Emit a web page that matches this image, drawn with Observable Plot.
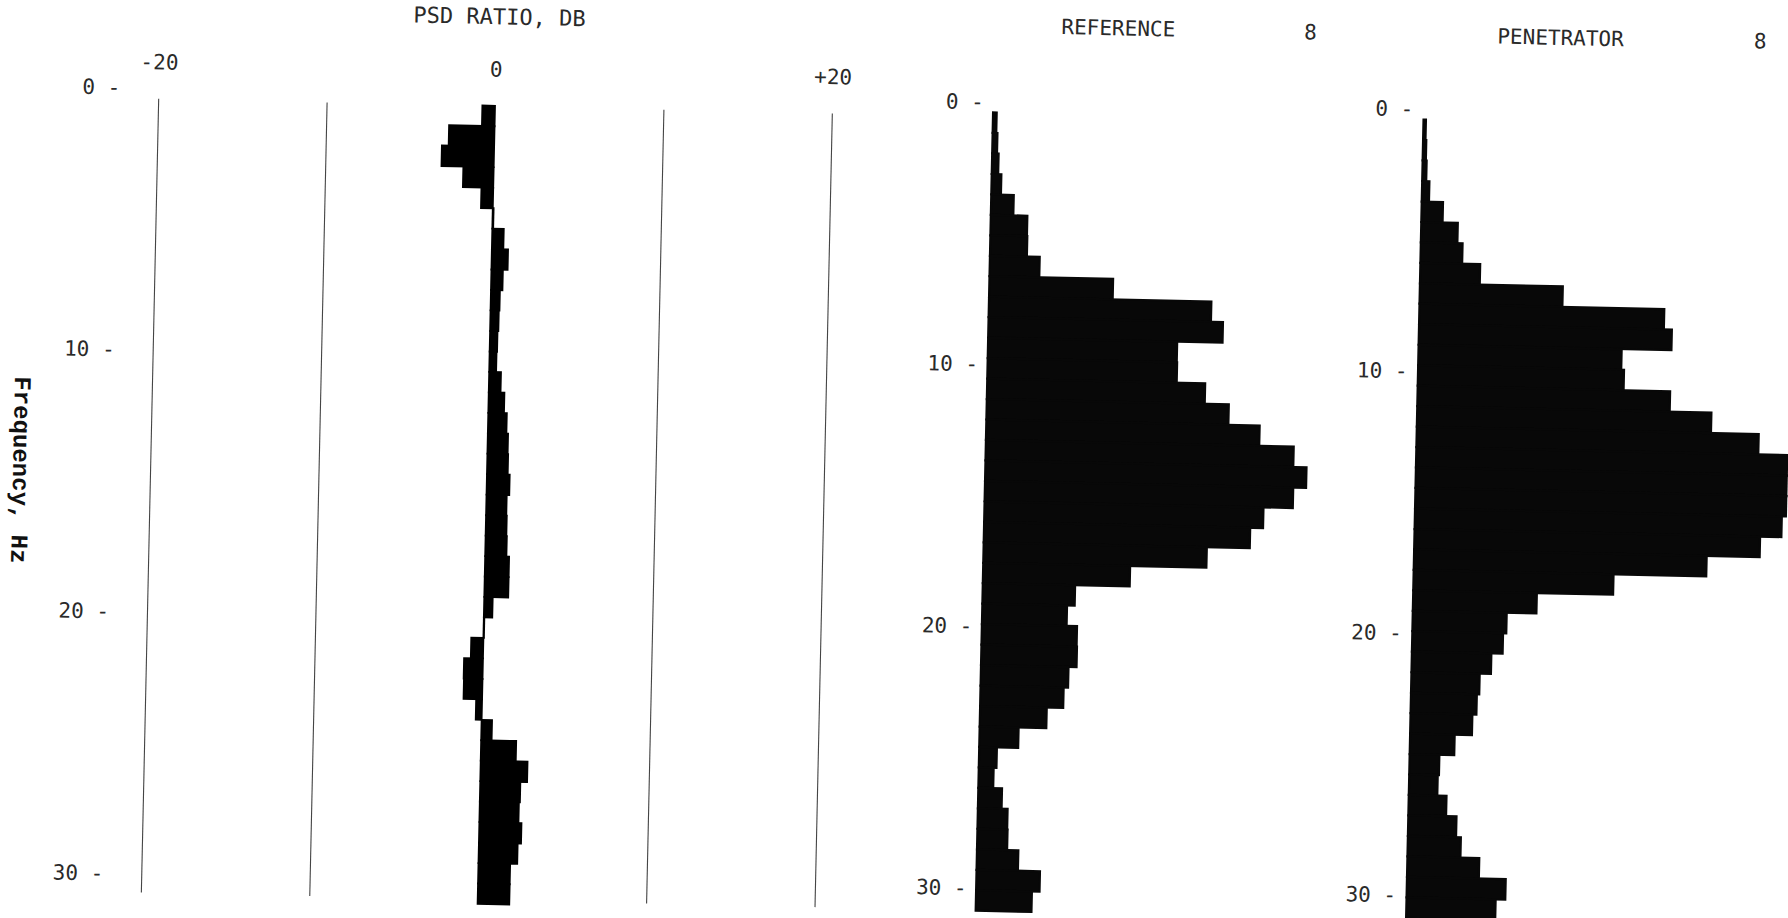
<!DOCTYPE html>
<html>
<head>
<meta charset="utf-8">
<script src="https://cdn.jsdelivr.net/npm/d3@7"></script>
<script src="https://cdn.jsdelivr.net/npm/@observablehq/plot@0.6"></script>
<style>
  html, body { margin: 0; padding: 0; background: #fff; overflow: hidden; width: 1788px; height: 918px; }
  #page { position: relative; width: 1788px; height: 918px; transform: rotate(1.25deg); transform-origin: 894px 459px; }
  #page svg { position: absolute; left: 0; top: 0; }
  .txt { position: absolute; font-family: "DejaVu Sans Mono", monospace; font-size: 21px; color: #2a2a2a; white-space: pre; line-height: 1; transform: translate(0, -50%); }
  .ctr { transform: translate(-50%, -50%); }
  #ylab { position: absolute; left: 20px; top: 489px; transform: translate(-50%, -50%); writing-mode: vertical-rl;
          font-family: "Liberation Mono", monospace; font-weight: bold; font-size: 24px; color: #111; white-space: pre; }
</style>
</head>
<body>
<div id="page">
  <div class="txt ctr" id="t0" style="left:490px; top:26px; font-size:22px;"></div>
  <div class="txt" id="t1" style="left:1052px; top:24px;"></div>
  <div class="txt ctr" id="s1" style="left:1301px; top:24px;"></div>
  <div class="txt" id="t2" style="left:1488px; top:24px;"></div>
  <div class="txt ctr" id="s2" style="left:1751px; top:23px;"></div>
  <div id="ylab"></div>
</div>
<script>
// ---- data ----
const freqHz = [0.78, 1.56, 2.34, 3.13, 3.91, 4.69, 5.47, 6.25, 7.03, 7.81, 8.59, 9.38, 10.16, 10.94,
  11.72, 12.50, 13.28, 14.06, 14.84, 15.63, 16.41, 17.19, 17.97, 18.75, 19.53, 20.31, 21.09, 21.88,
  22.66, 23.44, 24.22, 25.00, 25.78, 26.56, 27.34, 28.13, 28.91, 29.69, 30.47];
const binWidthHz = 0.78125;

const psdRatioDb = [-0.75, -2.7, -3.1, -1.8, -0.7, 0.05, 0.68, 0.96, 0.68, 0.53, 0.49, 0.44, 0.41,
  0.7, 0.93, 1.1, 1.2, 1.23, 1.35, 1.2, 1.23, 1.26, 1.42, 1.42, 0.5, 0.03, -0.72, -1.12, -1.1,
  -0.35, 0.62, 2.08, 2.78, 2.38, 2.32, 2.5, 2.3, 1.88, 1.88];

const referencePsd = [0.09, 0.12, 0.16, 0.24, 0.56, 0.91, 0.92, 1.24, 3.08, 5.54, 5.84, 4.71, 4.72,
  5.43, 6.03, 6.81, 7.67, 8.0, 7.68, 6.95, 6.63, 5.56, 3.66, 2.30, 2.11, 2.37, 2.38, 2.18, 2.07,
  1.66, 0.97, 0.44, 0.37, 0.59, 0.74, 0.75, 1.03, 1.58, 1.39];

const penetratorPsd = [0.06, 0.08, 0.10, 0.18, 0.53, 0.91, 1.04, 1.49, 3.56, 6.10, 6.30, 5.06, 5.13,
  6.29, 7.33, 8.52, 10.1, 10.6, 10.5, 9.14, 8.61, 7.29, 4.98, 3.08, 2.34, 2.26, 1.98, 1.70, 1.64,
  1.54, 1.11, 0.74, 0.71, 0.94, 1.20, 1.32, 1.79, 2.46, 2.22];

const dbGridLines = [-20, -10, 10, 20];
const dbTickLabels = [-20, 0, 20];
const freqTicks = [0, 10, 20, 30];
const gridSpanHz = [0.4, 30.7];
const panelTitles = ["PSD RATIO, DB", "REFERENCE", "PENETRATOR"];
const scaleLabels = ["8", "8"];
const yAxisTitle = "Frequency, Hz";

// ---- text ----
document.getElementById("t0").textContent = panelTitles[0];
document.getElementById("t1").textContent = panelTitles[1];
document.getElementById("t2").textContent = panelTitles[2];
document.getElementById("s1").textContent = scaleLabels[0];
document.getElementById("s2").textContent = scaleLabels[1];
document.getElementById("ylab").textContent = yAxisTitle;

// ---- charts ----
const rows = vals => freqHz.map((f, i) => ({lo: f - binWidthHz / 2, hi: f + binWidthHz / 2, v: vals[i]}));
const W = 1788, H = 918;
const baseStyle = {background: "transparent", fontFamily: "'DejaVu Sans Mono', monospace", fontSize: "21px", color: "#2a2a2a"};
const yAxis = () => Plot.axisY({anchor: "left", ticks: freqTicks, tickSize: 0, tickPadding: 3,
  tickFormat: d => `${d} -`, label: null});

const ratioPlot = Plot.plot({
  width: W, height: H, marginTop: 88, marginLeft: 115, marginRight: 0, marginBottom: 0,
  style: baseStyle,
  x: {domain: [-20, 20], range: [150.5, 824.3]},
  y: {domain: [0, 30], range: [104.4, 890.4]},
  marks: [
    Plot.ruleX(dbGridLines, {x: d => d, y1: () => gridSpanHz[0], y2: () => gridSpanHz[1], stroke: "#444", strokeWidth: 1.1}),
    Plot.rect(rows(psdRatioDb), {x1: () => 0, x2: "v", y1: "lo", y2: "hi", fill: "#000", stroke: "#000", strokeWidth: 1.8}),
    Plot.axisX({anchor: "top", ticks: dbTickLabels, tickSize: 0, tickPadding: 3,
      tickFormat: d => d > 0 ? `+${d}` : `${d}`, label: null}),
    yAxis()
  ]
});

const refPlot = Plot.plot({
  width: W, height: H, marginTop: 0, marginLeft: 978.5, marginRight: 0, marginBottom: 0,
  style: baseStyle,
  x: {domain: [0, 8], range: [985.5, 1306.6], axis: null},
  y: {domain: [0, 30], range: [100.2, 886.3]},
  marks: [
    Plot.rect(rows(referencePsd), {x1: () => 0, x2: "v", y1: "lo", y2: "hi", fill: "#080808", stroke: "#080808", strokeWidth: 2.2}),
    yAxis()
  ]
});

const penPlot = Plot.plot({
  width: W, height: H, marginTop: 0, marginLeft: 1408, marginRight: 0, marginBottom: 0,
  style: baseStyle,
  x: {domain: [0, 8], range: [1416, 1737.1], axis: null},
  y: {domain: [0, 30], range: [97.9, 884.0]},
  marks: [
    Plot.rect(rows(penetratorPsd), {x1: () => 0, x2: "v", y1: "lo", y2: "hi", fill: "#080808", stroke: "#080808", strokeWidth: 2.2}),
    yAxis()
  ]
});

const page = document.getElementById("page");
page.prepend(penPlot);
page.prepend(refPlot);
page.prepend(ratioPlot);
</script>
</body>
</html>
